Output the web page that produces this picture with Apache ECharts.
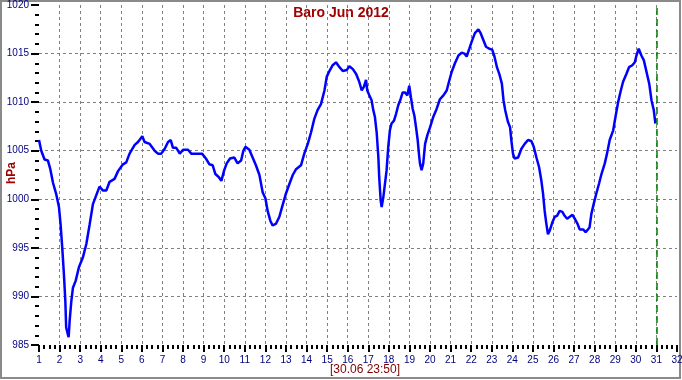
<!DOCTYPE html>
<html><head><meta charset="utf-8">
<script src="https://cdn.jsdelivr.net/npm/echarts@6/dist/echarts.min.js"></script>
<style>html,body{margin:0;padding:0;background:#fff;overflow:hidden}#c{width:682px;height:380px}</style>
</head><body><div id="c"></div>
<script>
const titleText = 'Baro Jun 2012';
const yAxisName = 'hPa';
const footerText = '[30.06 23:50]';
const markerDay = 31;
const days = [1.00,1.11,1.27,1.43,1.55,1.68,1.84,1.97,2.05,2.13,2.21,2.28,2.32,2.40,2.44,2.49,2.57,2.65,2.78,2.94,3.13,3.30,3.46,3.62,3.78,3.94,4.11,4.27,4.43,4.67,4.84,5.08,5.24,5.40,5.65,5.81,6.02,6.13,6.38,6.62,6.78,6.94,7.11,7.27,7.40,7.51,7.67,7.84,8.00,8.24,8.40,8.65,8.92,9.11,9.28,9.44,9.57,9.73,9.86,10.00,10.12,10.28,10.49,10.65,10.82,10.93,11.03,11.22,11.38,11.54,11.71,11.87,12.00,12.11,12.24,12.35,12.52,12.68,12.81,13.00,13.17,13.33,13.49,13.73,13.89,14.06,14.22,14.38,14.54,14.70,14.87,14.98,15.11,15.27,15.43,15.60,15.76,15.95,16.08,16.25,16.41,16.56,16.68,16.79,16.89,16.95,17.05,17.16,17.24,17.32,17.41,17.49,17.53,17.60,17.65,17.73,17.81,17.89,17.97,18.05,18.13,18.25,18.35,18.46,18.57,18.67,18.78,18.90,18.99,19.07,19.16,19.24,19.32,19.40,19.46,19.51,19.59,19.67,19.76,19.87,20.00,20.16,20.32,20.48,20.65,20.81,20.92,21.05,21.21,21.38,21.54,21.67,21.78,21.91,22.02,22.18,22.35,22.46,22.59,22.72,22.88,23.02,23.13,23.25,23.38,23.49,23.57,23.65,23.78,23.89,23.95,24.03,24.11,24.28,24.44,24.60,24.76,24.92,25.04,25.17,25.30,25.41,25.49,25.57,25.65,25.73,25.82,25.94,26.06,26.17,26.30,26.43,26.54,26.66,26.79,26.92,27.03,27.16,27.27,27.44,27.56,27.63,27.75,27.84,27.95,28.08,28.21,28.33,28.49,28.60,28.73,28.90,29.02,29.14,29.27,29.38,29.54,29.67,29.83,29.95,30.03,30.14,30.27,30.39,30.52,30.65,30.76,30.87,30.95];
const pressure = [1006.1,1005.0,1004.1,1004.0,1003.1,1001.7,1000.5,999.2,997.4,995.0,992.3,989.5,986.8,986.1,985.8,987.5,989.5,990.9,991.6,993.0,994.0,995.4,997.4,999.5,1000.4,1001.3,1000.9,1000.9,1001.8,1002.1,1002.9,1003.6,1003.8,1004.7,1005.6,1005.9,1006.5,1005.9,1005.7,1005.0,1004.7,1004.7,1005.2,1005.9,1006.1,1005.3,1005.3,1004.7,1005.1,1005.1,1004.7,1004.7,1004.7,1004.2,1003.6,1003.5,1002.6,1002.3,1001.9,1003.0,1003.7,1004.2,1004.3,1003.7,1004.0,1005.0,1005.4,1005.1,1004.3,1003.5,1002.5,1000.7,1000.1,998.8,997.8,997.3,997.5,998.2,999.2,1000.6,1001.6,1002.5,1003.1,1003.5,1004.7,1005.7,1006.9,1008.3,1009.2,1009.8,1011.2,1012.6,1013.2,1013.8,1014.1,1013.6,1013.2,1013.3,1013.7,1013.4,1012.9,1012.1,1011.2,1011.6,1012.3,1011.2,1010.7,1010.2,1009.2,1008.5,1006.8,1004.3,1002.3,999.9,999.2,1000.2,1000.4,1003.0,1005.4,1007.1,1007.8,1008.1,1008.8,1009.7,1010.3,1011.0,1011.0,1010.7,1011.7,1010.5,1009.3,1008.6,1007.4,1006.1,1004.7,1003.7,1003.0,1003.7,1005.7,1006.6,1007.4,1008.5,1009.3,1010.3,1010.7,1011.2,1012.1,1013.1,1014.0,1014.8,1015.1,1015.0,1014.7,1015.5,1016.2,1017.1,1017.5,1017.1,1016.4,1015.7,1015.5,1015.4,1014.7,1013.6,1012.8,1011.9,1010.2,1009.2,1008.0,1007.4,1006.1,1004.7,1004.2,1004.3,1005.2,1005.7,1006.1,1006.0,1005.4,1004.3,1003.3,1001.9,1000.6,998.8,997.5,996.4,996.8,997.6,998.2,998.3,998.8,998.7,998.3,998.0,998.2,998.4,998.0,997.5,996.9,996.9,996.6,996.4,997.1,998.5,999.5,1000.6,1001.6,1002.6,1003.7,1004.7,1006.1,1007.1,1008.6,1010.0,1011.2,1012.1,1012.9,1013.6,1013.8,1014.1,1014.8,1015.5,1014.8,1014.3,1013.1,1011.9,1010.2,1009.2,1007.8];

const chart = echarts.init(document.getElementById('c'), null, {renderer:'canvas'});
const font = "'Liberation Sans', Arial, sans-serif";
const data = days.map((d,i)=>[d, pressure[i]]);
chart.setOption({
  animation:false,
  backgroundColor:'#fff',
  grid:{left:39, right:5, top:5, bottom:35, containLabel:false, outerBoundsMode:'none'},
  graphic:[
    {type:'rect', shape:{x:1,y:1,width:679,height:377}, style:{fill:'none', stroke:'#8a8a8a', lineWidth:2}, silent:true},
    {type:'text', style:{text:titleText, x:341, y:13, align:'center', verticalAlign:'middle', fill:'#a00000', font:"bold 14px "+font}},
    {type:'text', style:{text:footerText, x:365, y:370, align:'center', verticalAlign:'middle', fill:'#800000', font:"12px "+font}},
    {type:'text', rotation:Math.PI/2, x:12, y:173, style:{text:yAxisName, x:0, y:0, align:'center', verticalAlign:'middle', fill:'#a00000', font:"bold 12px "+font}}
  ],
  xAxis:{
    type:'value', min:1, max:32, interval:1,
    axisLine:{show:false},
    axisTick:{show:true, inside:false, length:7, lineStyle:{color:'#000', width:2}},
    minorTick:{show:true, splitNumber:4, length:4, lineStyle:{color:'#000', width:2}},
    axisLabel:{color:'#000080', fontSize:10, fontFamily:font, margin:10, showMinLabel:true, showMaxLabel:true, formatter:(v)=>String(v)},
    splitLine:{show:true, showMinLine:false, showMaxLine:false, lineStyle:{color:'#808080', type:[3,3], width:1}}
  },
  yAxis:{
    type:'value', min:985, max:1020, interval:5,
    axisLine:{show:false},
    axisTick:{show:true, length:8, lineStyle:{color:'#000', width:2}},
    minorTick:{show:true, splitNumber:5, length:4, lineStyle:{color:'#000', width:2}},
    axisLabel:{color:'#000080', fontSize:10, fontFamily:font, margin:10, formatter:(v)=>String(v)},
    splitLine:{show:true, showMinLine:false, showMaxLine:false, lineStyle:{color:'#808080', type:[3,3], width:1}}
  },
  series:[{
    type:'line', data:data, showSymbol:false, symbol:'none', smooth:false,
    lineStyle:{color:'#0000ff', width:2.5}, itemStyle:{color:'#0000ff'},
    markLine:{silent:true, symbol:'none', label:{show:false},
      lineStyle:{color:'#008000', type:[7,4], width:1.5},
      data:[{xAxis:markerDay}]}
  }]
});
</script></body></html>
